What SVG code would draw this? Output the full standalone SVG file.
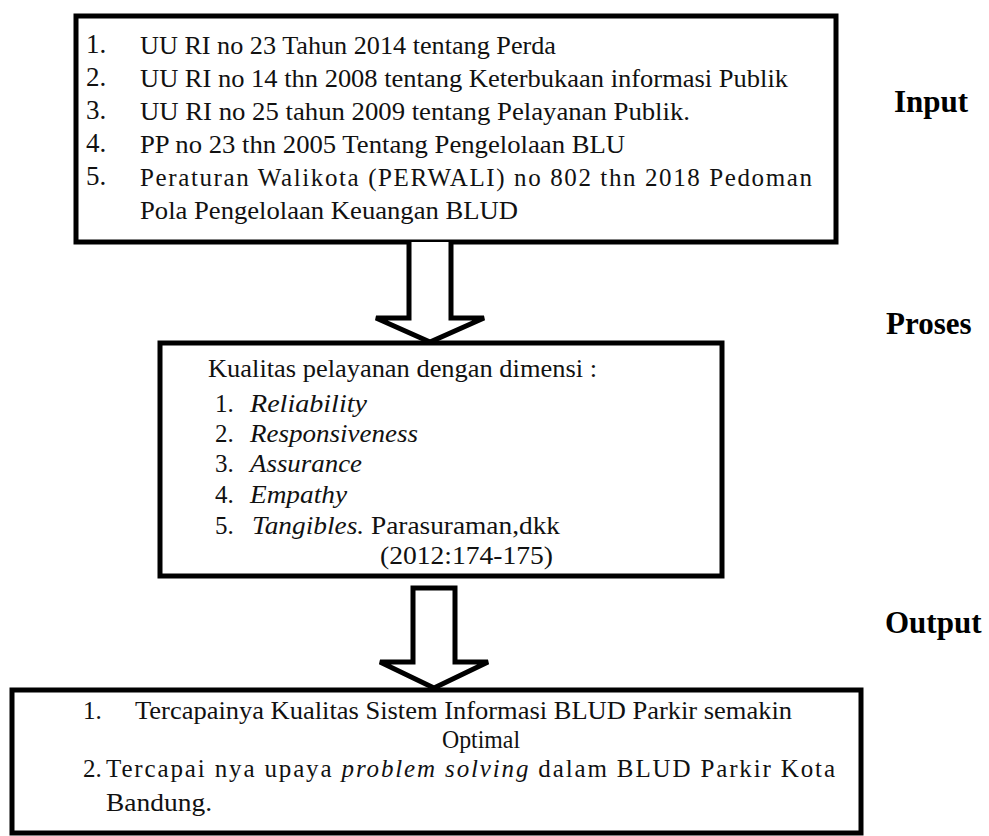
<svg xmlns="http://www.w3.org/2000/svg" width="989" height="836" viewBox="0 0 989 836">
<style>
.box{fill:#fff;stroke:#000;stroke-width:5}
.arr{fill:#fff;stroke:#000;stroke-width:5;stroke-linejoin:miter}
.t{font-family:"Liberation Serif","Times New Roman",serif;font-size:25px;fill:#111}
.n{font-family:"Liberation Serif","Times New Roman",serif;font-size:27px;fill:#111}
.lab{font-family:"Liberation Serif","Times New Roman",serif;font-size:31px;font-weight:bold;fill:#000}
.i{font-style:italic}
</style>
<rect width="989" height="836" fill="#fff"/>
<g id="input">
<rect class="box" x="76" y="16" width="760" height="226"/>
<text class="n" x="86" y="53">1.</text>
<text class="t" x="140" y="54" textLength="416" lengthAdjust="spacingAndGlyphs">UU RI no 23 Tahun 2014 tentang Perda</text>
<text class="n" x="86" y="86">2.</text>
<text class="t" x="140" y="87" textLength="648" lengthAdjust="spacingAndGlyphs">UU RI no 14 thn 2008 tentang Keterbukaan informasi Publik</text>
<text class="n" x="86" y="119">3.</text>
<text class="t" x="140" y="120" textLength="550" lengthAdjust="spacingAndGlyphs">UU RI no 25 tahun 2009 tentang Pelayanan Publik.</text>
<text class="n" x="86" y="152">4.</text>
<text class="t" x="140" y="153" textLength="485" lengthAdjust="spacingAndGlyphs">PP no 23 thn 2005 Tentang Pengelolaan BLU</text>
<text class="n" x="86" y="185">5.</text>
<text class="t" x="140" y="186" textLength="672" lengthAdjust="spacing">Peraturan Walikota (PERWALI) no 802 thn 2018 Pedoman</text>
<text class="t" x="140" y="219" textLength="378" lengthAdjust="spacingAndGlyphs">Pola Pengelolaan Keuangan BLUD</text>
</g>
<g id="proses">
<rect class="box" x="160" y="343" width="562" height="233"/>
<text class="t" x="208" y="377" textLength="389" lengthAdjust="spacingAndGlyphs">Kualitas pelayanan dengan dimensi :</text>
<text class="t" x="215" y="412">1.</text><text class="t i" x="250" y="412" textLength="117" lengthAdjust="spacingAndGlyphs">Reliability</text>
<text class="t" x="215" y="442">2.</text><text class="t i" x="250" y="442" textLength="168" lengthAdjust="spacingAndGlyphs">Responsiveness</text>
<text class="t" x="215" y="472">3.</text><text class="t i" x="250" y="472" textLength="112" lengthAdjust="spacingAndGlyphs">Assurance</text>
<text class="t" x="215" y="503">4.</text><text class="t i" x="250" y="503" textLength="97" lengthAdjust="spacingAndGlyphs">Empathy</text>
<text class="t" x="215" y="534">5.</text><text class="t" x="252" y="534" textLength="308" lengthAdjust="spacingAndGlyphs"><tspan class="i">Tangibles.</tspan> Parasuraman,dkk</text>
<text class="t" x="380" y="564" textLength="173" lengthAdjust="spacingAndGlyphs">(2012:174-175)</text>
</g>
<g id="output">
<rect class="box" x="12" y="690" width="849" height="143"/>
<text class="t" x="83" y="719">1.</text>
<text class="t" x="135" y="719" textLength="657" lengthAdjust="spacingAndGlyphs">Tercapainya Kualitas Sistem Informasi BLUD Parkir semakin</text>
<text class="t" x="442" y="748" textLength="78" lengthAdjust="spacingAndGlyphs">Optimal</text>
<text class="t" x="83" y="777">2.</text>
<text class="t" x="106" y="777" textLength="729" lengthAdjust="spacing">Tercapai nya upaya <tspan class="i">problem solving</tspan> dalam BLUD Parkir Kota</text>
<text class="t" x="106" y="811" textLength="106" lengthAdjust="spacingAndGlyphs">Bandung.</text>
</g>
<g id="labels">
<text class="lab" x="894" y="112">Input</text>
<text class="lab" x="886" y="334">Proses</text>
<text class="lab" x="885" y="633">Output</text>
</g>
<g id="connectors">
<path class="arr" d="M409,242 V318 H376 L430,342 L484,318 H451 V242"/>
<path class="arr" d="M413,588 V662 H380 L434,688 L488,662 H455 V588 Z"/>
</g>
</svg>
